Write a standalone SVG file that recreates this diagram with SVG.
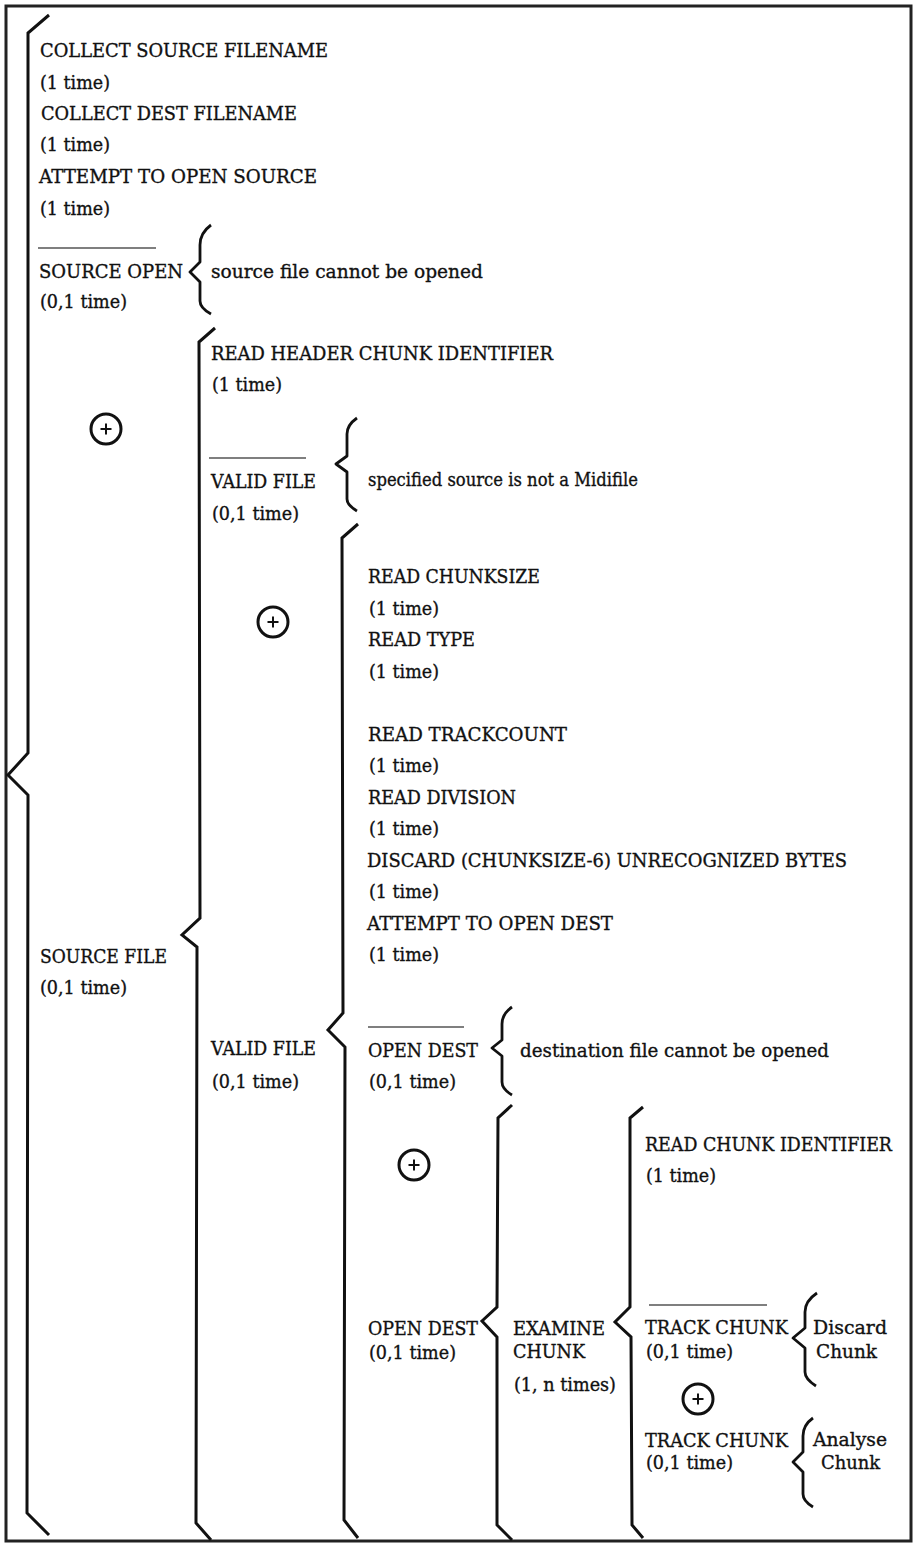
<svg xmlns="http://www.w3.org/2000/svg" width="917" height="1543" viewBox="0 0 917 1543">
<style>
text{font-family:"DejaVu Serif","Liberation Serif",serif;font-size:19px;fill:#111;stroke:#111;stroke-width:0.35}
.br{fill:none;stroke:#111;stroke-width:3;stroke-linejoin:miter;stroke-linecap:butt}
.cb{fill:none;stroke:#111;stroke-width:2.8;stroke-linejoin:round}
.ov{stroke:#555;stroke-width:1.5}
.frame{fill:#fff;stroke:#222;stroke-width:3}
</style>
<defs>
<g id="orsym"><circle cx="0" cy="0" r="15" fill="none" stroke="#111" stroke-width="3"/><path d="M-5.5,0H5.5M0,-5.5V5.5" stroke="#111" stroke-width="2"/></g>
</defs>
<rect class="frame" x="6" y="6" width="905" height="1535"/>
<g id="connectors">
<path class="br" d="M49,15 L28,33 L28,753 L8,775 L28,795 L27,1513 L49,1535"/>
<path class="br" d="M215,328 L199,342 L200,918 L182,935 L197,947 L196,1523 L211,1540"/>
<path class="br" d="M358,524 L342,538 L343,1013 L328,1030 L345,1047 L344,1520 L358,1538"/>
<path class="br" d="M512,1105 L498,1118 L497,1307 L482,1321 L497,1337 L497,1525 L512,1540"/>
<path class="br" d="M643,1107 L630,1118 L630,1307 L615,1322 L631,1337 L632,1525 L643,1538"/>
<path class="cb" d="M211,225 Q200,233 200,245 L200,262 L190,272 L200,282 L200,301 Q200,308 211,314"/>
<path class="cb" d="M357,418 Q347,425 347,434 L347,456 L336,464 L347,472 L347,499 Q347,505 357,511"/>
<path class="cb" d="M512,1007 Q502,1014 502,1024 L502,1040 L492,1048 L502,1056 L502,1082 Q502,1089 512,1095"/>
<path class="cb" d="M817,1293 Q805,1301 805,1312 L805,1328 L793,1338 L805,1348 L805,1372 Q805,1379 816,1386"/>
<path class="cb" d="M813,1418 Q803,1425 803,1436 L803,1452 L793,1462 L803,1472 L803,1494 Q803,1501 813,1507"/>
</g>
<g id="n-collect-source"><text x="40" y="57" textLength="288" lengthAdjust="spacingAndGlyphs">COLLECT SOURCE FILENAME</text><text x="40" y="89" textLength="70" lengthAdjust="spacingAndGlyphs">(1 time)</text></g>
<g id="n-collect-dest"><text x="41" y="120" textLength="256" lengthAdjust="spacingAndGlyphs">COLLECT DEST FILENAME</text><text x="40" y="151" textLength="70" lengthAdjust="spacingAndGlyphs">(1 time)</text></g>
<g id="n-attempt-source"><text x="39" y="183" textLength="278" lengthAdjust="spacingAndGlyphs">ATTEMPT TO OPEN SOURCE</text><text x="40" y="215" textLength="70" lengthAdjust="spacingAndGlyphs">(1 time)</text></g>
<g id="n-source-open-not"><line class="ov" x1="38" y1="248" x2="156" y2="248"/><text x="39" y="278" textLength="144" lengthAdjust="spacingAndGlyphs">SOURCE OPEN</text><text x="40" y="308" textLength="87" lengthAdjust="spacingAndGlyphs">(0,1 time)</text><text x="211" y="278" textLength="272" lengthAdjust="spacingAndGlyphs">source file cannot be opened</text></g>
<g id="or-1"><use href="#orsym" x="106" y="429"/></g>
<g id="n-source-file"><text x="40" y="963" textLength="127" lengthAdjust="spacingAndGlyphs">SOURCE FILE</text><text x="40" y="994" textLength="87" lengthAdjust="spacingAndGlyphs">(0,1 time)</text></g>
<g id="n-read-header"><text x="211" y="360" textLength="342" lengthAdjust="spacingAndGlyphs">READ HEADER CHUNK IDENTIFIER</text><text x="212" y="391" textLength="70" lengthAdjust="spacingAndGlyphs">(1 time)</text></g>
<g id="n-valid-file-not"><line class="ov" x1="209" y1="458" x2="306" y2="458"/><text x="211" y="488" textLength="105" lengthAdjust="spacingAndGlyphs">VALID FILE</text><text x="212" y="520" textLength="87" lengthAdjust="spacingAndGlyphs">(0,1 time)</text><text x="368" y="486" textLength="270" lengthAdjust="spacingAndGlyphs">specified source is not a Midifile</text></g>
<g id="or-2"><use href="#orsym" x="273" y="622"/></g>
<g id="n-valid-file"><text x="211" y="1055" textLength="105" lengthAdjust="spacingAndGlyphs">VALID FILE</text><text x="212" y="1088" textLength="87" lengthAdjust="spacingAndGlyphs">(0,1 time)</text></g>
<g id="n-read-chunksize"><text x="368" y="583" textLength="172" lengthAdjust="spacingAndGlyphs">READ CHUNKSIZE</text><text x="369" y="615" textLength="70" lengthAdjust="spacingAndGlyphs">(1 time)</text></g>
<g id="n-read-type"><text x="368" y="646" textLength="107" lengthAdjust="spacingAndGlyphs">READ TYPE</text><text x="369" y="678" textLength="70" lengthAdjust="spacingAndGlyphs">(1 time)</text></g>
<g id="n-read-trackcount"><text x="368" y="741" textLength="199" lengthAdjust="spacingAndGlyphs">READ TRACKCOUNT</text><text x="369" y="772" textLength="70" lengthAdjust="spacingAndGlyphs">(1 time)</text></g>
<g id="n-read-division"><text x="368" y="804" textLength="148" lengthAdjust="spacingAndGlyphs">READ DIVISION</text><text x="369" y="835" textLength="70" lengthAdjust="spacingAndGlyphs">(1 time)</text></g>
<g id="n-discard"><text x="367" y="867" textLength="480" lengthAdjust="spacingAndGlyphs">DISCARD (CHUNKSIZE-6) UNRECOGNIZED BYTES</text><text x="369" y="898" textLength="70" lengthAdjust="spacingAndGlyphs">(1 time)</text></g>
<g id="n-attempt-dest"><text x="367" y="930" textLength="246" lengthAdjust="spacingAndGlyphs">ATTEMPT TO OPEN DEST</text><text x="369" y="961" textLength="70" lengthAdjust="spacingAndGlyphs">(1 time)</text></g>
<g id="n-open-dest-not"><line class="ov" x1="368" y1="1027" x2="464" y2="1027"/><text x="368" y="1057" textLength="110" lengthAdjust="spacingAndGlyphs">OPEN DEST</text><text x="369" y="1088" textLength="87" lengthAdjust="spacingAndGlyphs">(0,1 time)</text><text x="520" y="1057" textLength="309" lengthAdjust="spacingAndGlyphs">destination file cannot be opened</text></g>
<g id="or-3"><use href="#orsym" x="414" y="1165"/></g>
<g id="n-open-dest"><text x="368" y="1335" textLength="110" lengthAdjust="spacingAndGlyphs">OPEN DEST</text><text x="369" y="1359" textLength="87" lengthAdjust="spacingAndGlyphs">(0,1 time)</text></g>
<g id="n-examine-chunk"><text x="513" y="1335" textLength="92" lengthAdjust="spacingAndGlyphs">EXAMINE</text><text x="513" y="1358" textLength="72" lengthAdjust="spacingAndGlyphs">CHUNK</text><text x="514" y="1391" textLength="102" lengthAdjust="spacingAndGlyphs">(1, n times)</text></g>
<g id="n-read-chunk-id"><text x="645" y="1151" textLength="247" lengthAdjust="spacingAndGlyphs">READ CHUNK IDENTIFIER</text><text x="646" y="1182" textLength="70" lengthAdjust="spacingAndGlyphs">(1 time)</text></g>
<g id="n-track-chunk-not"><line class="ov" x1="649" y1="1305" x2="767" y2="1305"/><text x="645" y="1334" textLength="143" lengthAdjust="spacingAndGlyphs">TRACK CHUNK</text><text x="646" y="1358" textLength="87" lengthAdjust="spacingAndGlyphs">(0,1 time)</text></g>
<g id="n-discard-chunk"><text x="813" y="1334" textLength="74" lengthAdjust="spacingAndGlyphs">Discard</text><text x="816" y="1358" textLength="61" lengthAdjust="spacingAndGlyphs">Chunk</text></g>
<g id="or-4"><use href="#orsym" x="698" y="1399"/></g>
<g id="n-track-chunk"><text x="645" y="1447" textLength="143" lengthAdjust="spacingAndGlyphs">TRACK CHUNK</text><text x="646" y="1469" textLength="87" lengthAdjust="spacingAndGlyphs">(0,1 time)</text></g>
<g id="n-analyse-chunk"><text x="813" y="1446" textLength="74" lengthAdjust="spacingAndGlyphs">Analyse</text><text x="821" y="1469" textLength="59" lengthAdjust="spacingAndGlyphs">Chunk</text></g>
</svg>
